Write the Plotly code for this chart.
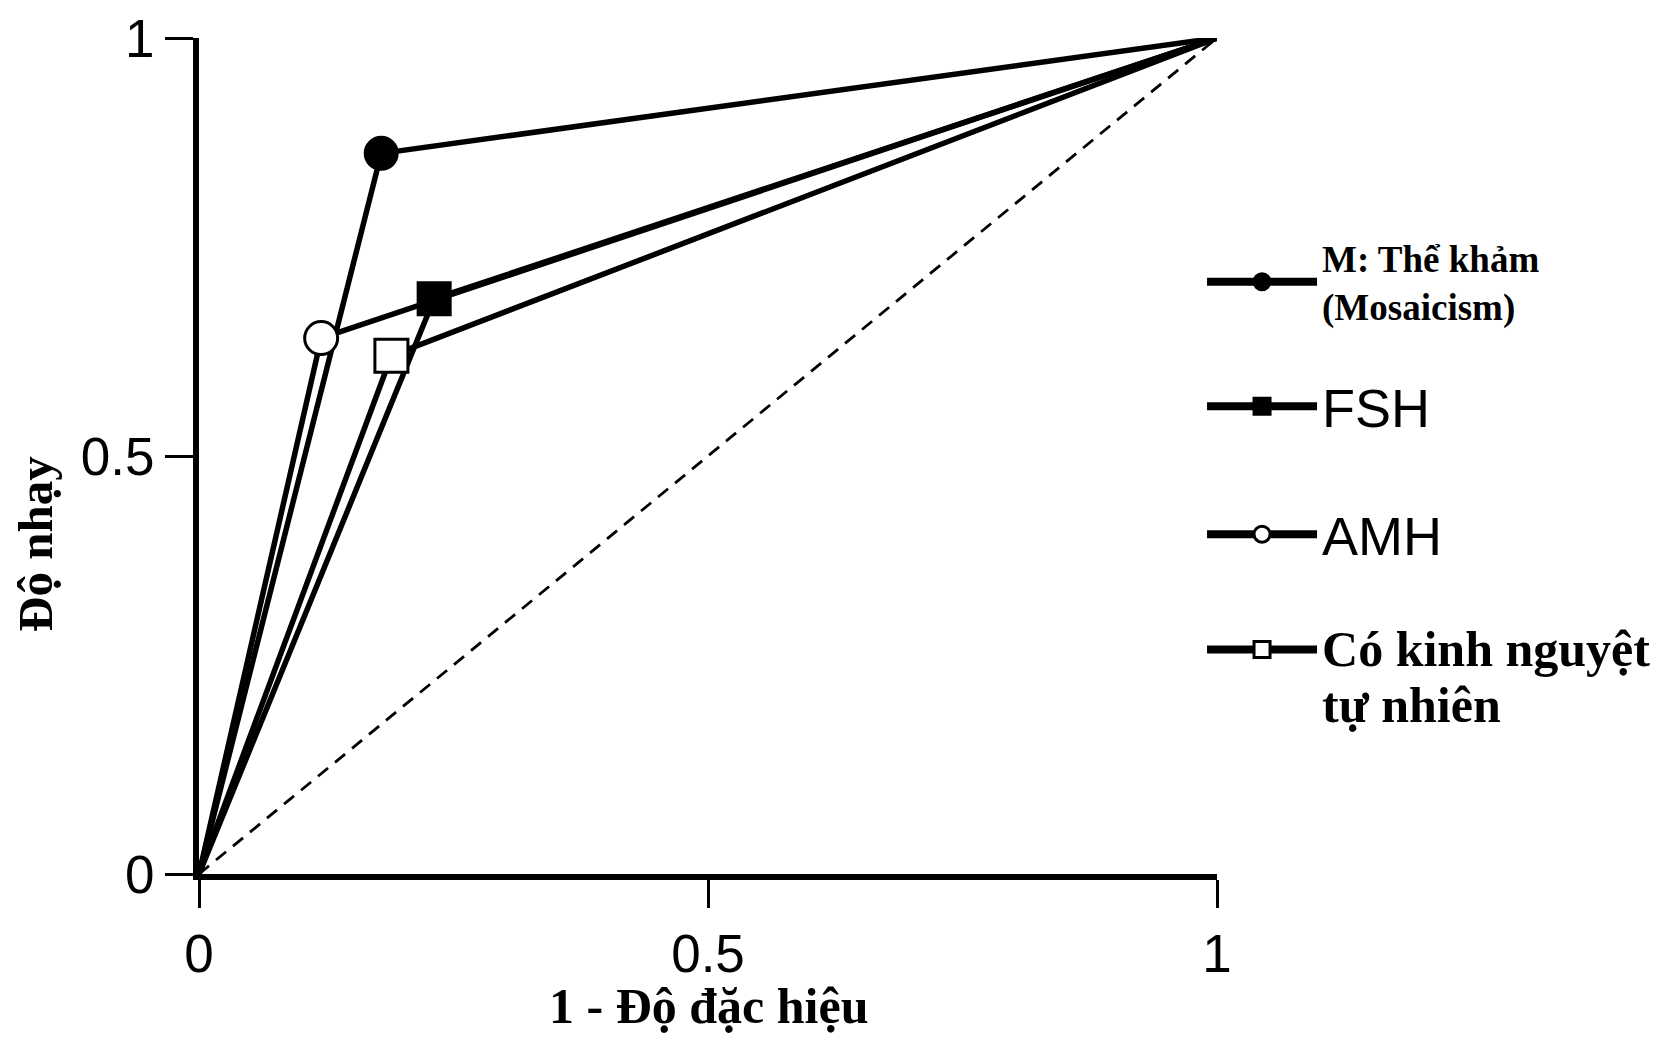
import plotly.graph_objects as go

# ---- data ----
series_names = [
    "M: Thể khảm<br>(Mosaicism)",
    "FSH",
    "AMH",
    "<span style='font-size:50px'>Có kinh nguyệt</span><br><span style='font-size:50px'>tự nhiên</span>",
]
fpr = [0.179, 0.231, 0.120, 0.189]   # 1 - specificity
tpr = [0.862, 0.688, 0.641, 0.620]   # sensitivity
roc_start = [0, 0]
roc_end = [1, 1]
tick_vals = [0, 0.5, 1]
tick_text = ["0", "0.5", "1"]
x_title = "1 - Độ đặc hiệu"
y_title = "Độ nhạy"

# ---- styles ----
symbols = ["circle", "square", "circle", "square"]
fills = ["black", "black", "white", "white"]
sizes = [32, 32, 33, 33]
legend_ids = ["legend", "legend2", "legend3", "legend4"]
legend_y = [0.708, 0.559, 0.406, 0.235]
legend_valign = ["middle", "middle", "middle", "top"]
serif_bold = dict(family="Liberation Serif", weight="bold", color="black")
sans = dict(family="Liberation Sans, Arial", color="black")
legend_fonts = [dict(**serif_bold, size=37), dict(**sans, size=54),
                dict(**sans, size=54), dict(**serif_bold, size=43)]

fig = go.Figure()

# chance diagonal
fig.add_trace(go.Scatter(
    x=[roc_start[0], roc_end[0]], y=[roc_start[1], roc_end[1]],
    mode="lines", line=dict(color="black", width=2.8, dash="13px,9px"),
    showlegend=False, hoverinfo="skip"))

for i in range(len(series_names)):
    fig.add_trace(go.Scatter(
        x=[roc_start[0], fpr[i], roc_end[0]],
        y=[roc_start[1], tpr[i], roc_end[1]],
        mode="lines", line=dict(color="black", width=5.5),
        showlegend=False, hoverinfo="skip"))

for i, name in enumerate(series_names):
    fig.add_trace(go.Scatter(
        x=[fpr[i]], y=[tpr[i]], name=name,
        mode="lines+markers", line=dict(color="black", width=8),
        marker=dict(symbol=symbols[i], size=sizes[i], color=fills[i],
                    line=dict(color="black", width=3)),
        legend=legend_ids[i], cliponaxis=False))

axis_common = dict(
    range=[0, 1], showgrid=False, zeroline=False, automargin=False,
    showline=True, linecolor="black", linewidth=6,
    ticks="outside", ticklen=28, tickwidth=3, tickcolor="black",
    tickvals=tick_vals, ticktext=tick_text, ticklabeloverflow="allow",
    tickfont=dict(family="Liberation Sans, Arial", size=53, color="black"),
)

layout_legends = {}
for i, lid in enumerate(legend_ids):
    layout_legends[lid] = dict(
        x=0.9853, xanchor="left", y=legend_y[i], yanchor="middle",
        valign=legend_valign[i],
        font=legend_fonts[i], itemwidth=110, bgcolor="rgba(0,0,0,0)",
        itemclick=False, itemdoubleclick=False)

# page body has an 8px margin: figure is 16px smaller than the window
fig.update_layout(
    width=1651, height=1026,
    margin=dict(l=191, r=442, t=30, b=160, autoexpand=False),
    paper_bgcolor="white", plot_bgcolor="white",
    xaxis=axis_common, yaxis=axis_common,
    showlegend=True,
    annotations=[
        dict(text=x_title, xref="paper", yref="paper", x=0.5, y=-0.158,
             xanchor="center", yanchor="middle", showarrow=False,
             font=dict(**serif_bold, size=50)),
        dict(text=y_title, xref="paper", yref="paper", x=-0.160, y=0.395,
             xanchor="center", yanchor="middle", showarrow=False, textangle=-90,
             font=dict(**serif_bold, size=49)),
    ],
    **layout_legends,
)

fig.write_html("out.html")
